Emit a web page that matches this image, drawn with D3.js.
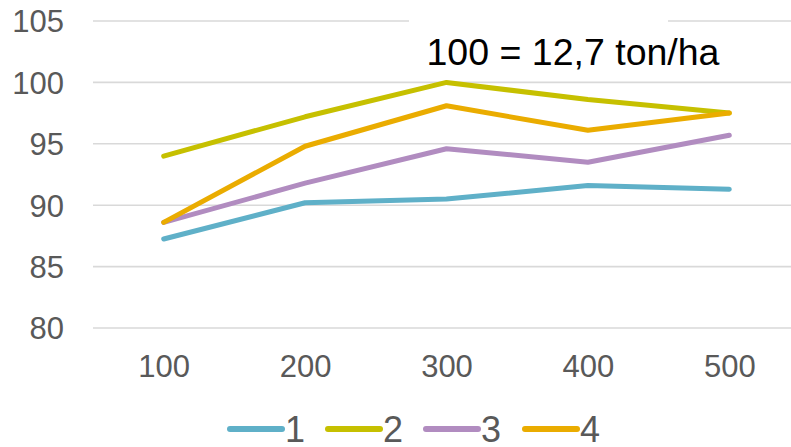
<!DOCTYPE html>
<html>
<head>
<meta charset="utf-8">
<script src="https://cdn.jsdelivr.net/npm/d3@7"></script>
<style>
  html, body { margin: 0; padding: 0; background: #fff; }
  svg { display: block; font-family: "Liberation Sans", Arial, sans-serif; }
</style>
</head>
<body>
<svg id="chart" width="791" height="447"></svg>
<script>
const categories = ["100", "200", "300", "400", "500"];
const seriesNames = ["1", "2", "3", "4"];
const series1 = [87.25, 90.2, 90.5, 91.6, 91.3];
const series2 = [94.0, 97.2, 100.0, 98.6, 97.5];
const series3 = [88.6, 91.8, 94.6, 93.5, 95.7];
const series4 = [88.6, 94.8, 98.1, 96.1, 97.5];
const colors = ["#5fb0c8", "#c6c000", "#b18cc0", "#eaac00"];
const yTicks = [80, 85, 90, 95, 100, 105];
const annotation = "100 = 12,7 ton/ha";

const allSeries = [series1, series2, series3, series4];

const svg = d3.select("#chart");
const plotLeft = 93, plotRight = 800, plotTop = 21, plotBottom = 328;

const x = d3.scalePoint().domain(categories).range([plotLeft, plotRight]).padding(0.5);
const y = d3.scaleLinear().domain([80, 105]).range([plotBottom, plotTop]);

// gridlines
svg.append("g").selectAll("line").data(yTicks).join("line")
  .attr("x1", plotLeft).attr("x2", 791)
  .attr("y1", d => y(d)).attr("y2", d => y(d))
  .attr("stroke", "#d9d9d9").attr("stroke-width", 1.6);

// y axis labels
const yAxis = d3.axisLeft(y).tickValues(yTicks).tickSize(0).tickPadding(0);
const gy = svg.append("g").attr("transform", `translate(64,0)`).call(yAxis);
gy.select(".domain").remove();
gy.selectAll("text").attr("font-size", 31).attr("fill", "#595959")
  .attr("font-family", "Liberation Sans, Arial, sans-serif").attr("dy", "0.35em");

// x axis labels
const xAxis = d3.axisBottom(x).tickSize(0).tickPadding(0);
const gx = svg.append("g").attr("transform", `translate(0,377)`).call(xAxis);
gx.select(".domain").remove();
gx.selectAll("text").attr("font-size", 31).attr("fill", "#595959")
  .attr("font-family", "Liberation Sans, Arial, sans-serif").attr("dy", 0);

// annotation background and text
svg.append("rect").attr("x", 409).attr("y", 6).attr("width", 259).attr("height", 70).attr("fill", "#fff");
svg.append("text").attr("x", 426.5).attr("y", 65).attr("font-size", 37.5).attr("fill", "#000")
  .text(annotation);

// lines
const line = d3.line().x((d, i) => x(categories[i])).y(d => y(d));
svg.append("g").selectAll("path").data(allSeries).join("path")
  .attr("d", d => line(d))
  .attr("fill", "none")
  .attr("stroke", (d, i) => colors[i])
  .attr("stroke-width", 5)
  .attr("stroke-linejoin", "round")
  .attr("stroke-linecap", "round");

// legend
const legendX = [230, 328, 426, 525];
const lg = svg.append("g").selectAll("g").data(seriesNames).join("g")
  .attr("transform", (d, i) => `translate(${legendX[i]},429)`);
lg.append("line").attr("x1", 0).attr("x2", 52).attr("y1", 0).attr("y2", 0)
  .attr("stroke", (d, i) => colors[i]).attr("stroke-width", 6).attr("stroke-linecap", "round");
lg.append("text").attr("x", 55).attr("y", 0).attr("dy", "0.35em")
  .attr("font-size", 36).attr("fill", "#595959").text(d => d);
</script>
</body>
</html>
